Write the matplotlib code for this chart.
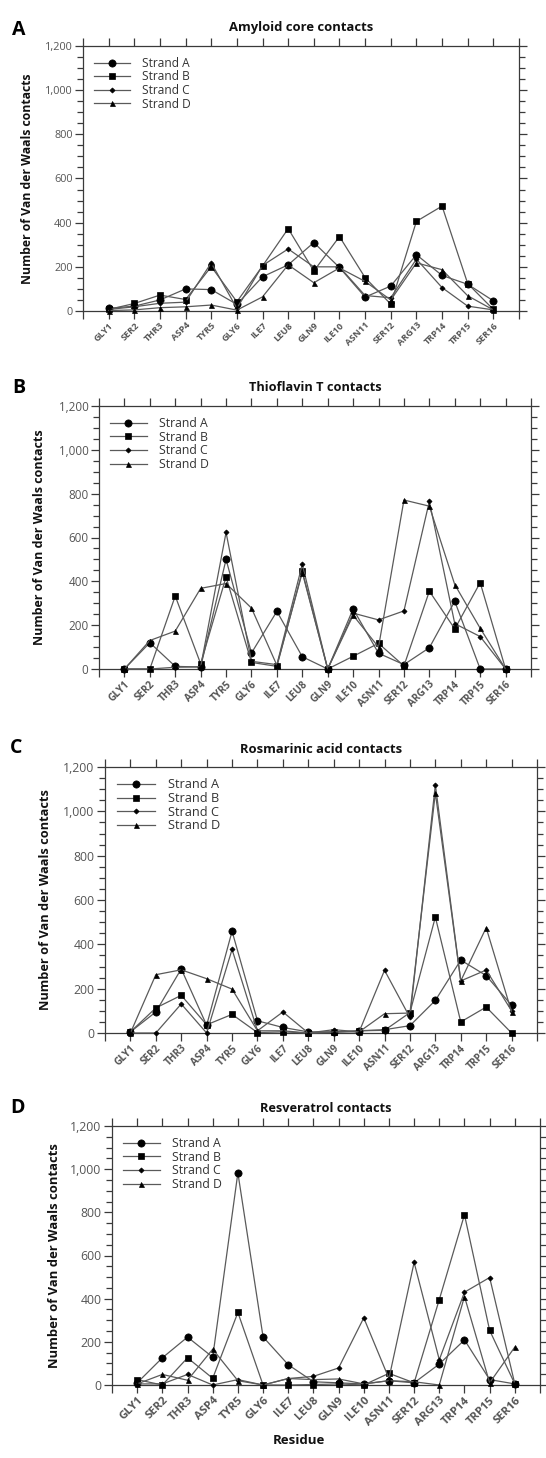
import matplotlib
matplotlib.use("Agg")
import matplotlib.pyplot as plt
from matplotlib.ticker import MultipleLocator, FuncFormatter, FixedLocator

plt.rcParams['font.family'] = ['Open Sans', 'DejaVu Sans']

residues = ["GLY1", "SER2", "THR3", "ASP4", "TYR5", "GLY6", "ILE7", "LEU8",
            "GLN9", "ILE10", "ASN11", "SER12", "ARG13", "TRP14", "TRP15", "SER16"]
strands = ["Strand A", "Strand B", "Strand C", "Strand D"]

# Panel A: Amyloid core contacts
amyloid_A = [12, 22, 50, 100, 97, 30, 155, 209, 310, 197, 63, 113, 255, 161, 121, 46]
amyloid_B = [7, 34, 72, 52, 201, 42, 204, 373, 181, 337, 151, 31, 406, 475, 124, 7]
amyloid_C = [7, 19, 35, 40, 218, 12, 206, 281, 200, 200, 70, 60, 235, 106, 22, 5]
amyloid_D = [2, 5, 15, 19, 27, 4, 64, 209, 128, 195, 134, 50, 218, 187, 69, 5]

# Panel B: Thioflavin T contacts
tht_A = [0, 120, 12, 9, 500, 73, 263, 56, 0, 274, 72, 20, 97, 309, 0, 0]
tht_B = [0, 0, 333, 24, 420, 30, 12, 446, 0, 58, 117, 14, 355, 183, 394, 0]
tht_C = [0, 0, 8, 10, 623, 35, 20, 478, 0, 255, 224, 265, 765, 207, 148, 0]
tht_D = [0, 130, 173, 368, 390, 278, 17, 440, 0, 245, 100, 771, 743, 385, 186, 0]

# Panel C: Rosmarinic acid contacts
ros_A = [5, 95, 289, 35, 459, 55, 25, 5, 5, 10, 15, 33, 147, 329, 259, 125]
ros_B = [5, 113, 170, 37, 84, 2, 5, 0, 3, 10, 12, 92, 523, 50, 117, 0]
ros_C = [0, 0, 131, 0, 377, 10, 95, 0, 15, 5, 283, 70, 1120, 235, 284, 100]
ros_D = [0, 263, 285, 245, 198, 10, 10, 0, 5, 5, 87, 90, 1083, 235, 475, 95]

# Panel D: Resveratrol contacts
res_A = [10, 126, 222, 129, 983, 223, 94, 15, 10, 5, 20, 10, 97, 209, 25, 5]
res_B = [25, 0, 126, 31, 336, 0, 0, 2, 5, 0, 54, 10, 396, 789, 253, 5]
res_C = [5, 5, 49, 0, 25, 0, 30, 40, 79, 311, 30, 568, 117, 430, 498, 5]
res_D = [5, 49, 22, 166, 20, 0, 30, 25, 28, 5, 20, 15, 0, 410, 10, 176]

titles = ["Amyloid core contacts", "Thioflavin T contacts",
          "Rosmarinic acid contacts", "Resveratrol contacts"]
letters = ["A", "B", "C", "D"]
panel_data = [
    [amyloid_A, amyloid_B, amyloid_C, amyloid_D],
    [tht_A, tht_B, tht_C, tht_D],
    [ros_A, ros_B, ros_C, ros_D],
    [res_A, res_B, res_C, res_D],
]

W, H = 546, 1458
fig = plt.figure(figsize=(W / 100, H / 100), dpi=100)

# (left, right, top, bottom) in pixels
boxes = [(83, 519, 46, 311), (99, 531, 406, 669), (105, 537, 767, 1033), (112, 540, 1126, 1385)]
xtick_fs = [6.6, 7.2, 7.2, 8.2]
ytick_fs = [7.8, 8.4, 8.8, 8.8]
ylab_fs = [8.8, 9.0, 9.2, 9.4]
title_fs = [9.4, 9.2, 9.4, 9.2]
title_pad = [11, 11, 10, 10]
leg_fs = [8.6, 8.8, 9.2, 8.8]
letter_pos = [(12, 30), (12, 388), (10, 748), (10, 1108)]
ylab_x = [28, 40, 46, 55]

markers = ['o', 's', 'D', '^']
msizes = [5.2, 5.0, 2.6, 3.6]
line_col = '#5a5a5a'
spine_col = '#3a3a3a'
tick_col = '#555555'

xs = list(range(1, 17))

for i in range(4):
    l, r, t, b = boxes[i]
    ax = fig.add_axes([l / W, 1 - b / H, (r - l) / W, (b - t) / H])
    for j in range(4):
        ax.plot(xs, panel_data[i][j], color=line_col, lw=0.9,
                marker=markers[j], markersize=msizes[j],
                markerfacecolor='black', markeredgecolor='black',
                markeredgewidth=0.5, label=strands[j], clip_on=False, zorder=3)
    ax.set_xlim(0, 17)
    ax.set_ylim(0, 1200)
    ax.xaxis.set_major_locator(FixedLocator(list(range(0, 18))))
    ax.set_xticklabels([""] + residues + [""])
    ax.yaxis.set_major_locator(MultipleLocator(200))
    ax.yaxis.set_minor_locator(MultipleLocator(50))
    ax.yaxis.set_major_formatter(FuncFormatter(lambda v, p: f"{int(v):,}"))
    ax.tick_params(axis='both', which='both', direction='out', color=spine_col,
                   top=True, right=True, width=0.9)
    ax.tick_params(axis='both', which='major', length=6)
    ax.tick_params(axis='y', which='minor', length=4)
    ax.tick_params(axis='y', labelsize=ytick_fs[i], labelcolor=tick_col, pad=1.5)
    ax.tick_params(axis='x', labelsize=xtick_fs[i], labelcolor=tick_col, pad=1)
    for lab in ax.get_xticklabels():
        lab.set_rotation(45)
        lab.set_ha('right')
        lab.set_va('top')
        lab.set_rotation_mode('anchor')
        lab.set_fontweight('bold')
    for s in ax.spines.values():
        s.set_color(spine_col)
        s.set_linewidth(0.9)
    ax.set_title(titles[i], fontsize=title_fs[i], fontweight='bold', color='#111111',
                 pad=title_pad[i])
    fig.text(ylab_x[i] / W, 1 - ((t + b) / 2) / H, "Number of Van der Waals contacts",
             rotation=90, ha='center', va='center', fontsize=ylab_fs[i],
             fontweight='bold', color='#111111')
    fig.text(letter_pos[i][0] / W, 1 - letter_pos[i][1] / H, letters[i],
             fontsize=14, fontweight='bold', color='black', ha='left', va='center')
    leg = ax.legend(loc='upper left', frameon=False, fontsize=leg_fs[i],
                    handlelength=3.0, handletextpad=1.0, labelspacing=0.05,
                    borderaxespad=0.5)
    for txt in leg.get_texts():
        txt.set_color('#333333')

fig.text(0.5 + 26 / W, 1 - 1440 / H, "Residue", ha='center', va='center',
         fontsize=9.5, fontweight='bold', color='#111111')

fig.savefig("out.png", dpi=100)
